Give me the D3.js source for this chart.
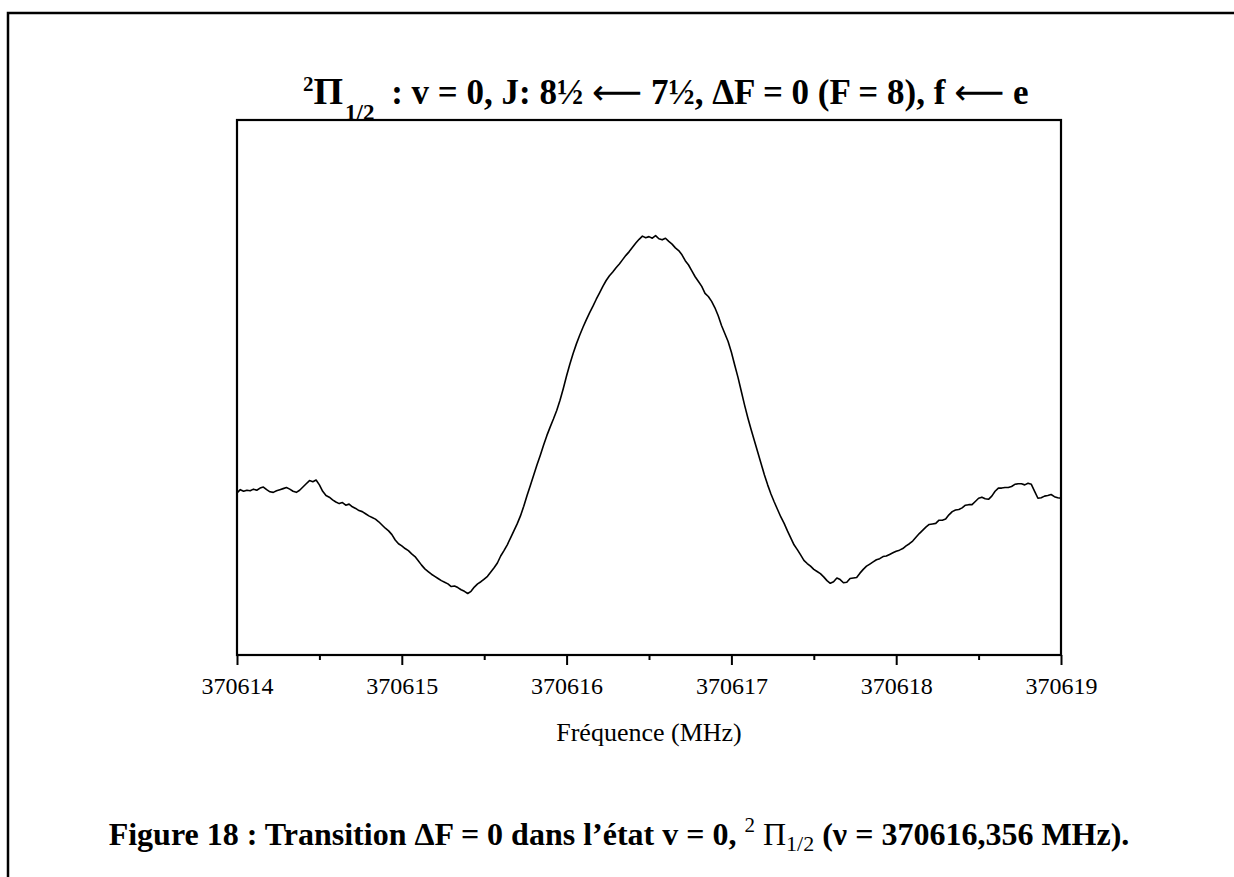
<!DOCTYPE html>
<html>
<head>
<meta charset="utf-8">
<script src="https://cdn.jsdelivr.net/npm/d3@7"></script>
<style>
  body { margin: 0; background: #fff; }
  svg { display: block; }
  text { font-family: "Liberation Serif", "Times New Roman", serif; fill: #000; }
</style>
</head>
<body>
<svg id="chart" width="1234" height="877"></svg>
<script>
// fréquence de base, les offsets sont en MHz au-dessus
const F0 = 370614

// balayage : [offset MHz, signal (u.a.)]
const scan = [
  [0.00, 30.3], [0.02, 30.9], [0.04, 30.6], [0.06, 30.8], [0.08, 30.7], [0.10, 31.0], [0.12, 30.8], [0.14, 31.2],
  [0.16, 31.4], [0.18, 30.9], [0.20, 30.5], [0.22, 30.4], [0.24, 30.7], [0.26, 30.9], [0.28, 31.1], [0.30, 31.3],
  [0.32, 31.0], [0.34, 30.6], [0.36, 30.4], [0.38, 30.8], [0.40, 31.4], [0.42, 32.0], [0.44, 32.6], [0.46, 32.4],
  [0.48, 32.7], [0.50, 31.8], [0.52, 30.6], [0.54, 29.8], [0.56, 29.5], [0.58, 29.0], [0.60, 28.6], [0.62, 28.3],
  [0.64, 28.5], [0.66, 28.0], [0.68, 28.2], [0.70, 27.7], [0.72, 27.4], [0.74, 27.0], [0.76, 26.8], [0.78, 26.4],
  [0.80, 26.0], [0.82, 25.7], [0.84, 25.4], [0.86, 24.9], [0.88, 24.3], [0.90, 23.7], [0.92, 23.2], [0.94, 22.5],
  [0.96, 21.5], [0.98, 20.8], [1.00, 20.4], [1.02, 19.9], [1.04, 19.5], [1.06, 18.9], [1.08, 18.4], [1.10, 17.6],
  [1.12, 16.8], [1.14, 16.1], [1.16, 15.6], [1.18, 15.1], [1.20, 14.7], [1.22, 14.3], [1.24, 13.9], [1.26, 13.6],
  [1.28, 13.3], [1.30, 12.8], [1.32, 12.9], [1.34, 12.6], [1.36, 12.2], [1.38, 11.9], [1.40, 11.5], [1.42, 11.9],
  [1.44, 12.7], [1.46, 13.3], [1.48, 13.7], [1.50, 14.2], [1.52, 14.7], [1.54, 15.5], [1.56, 16.3], [1.58, 17.2],
  [1.60, 18.5], [1.62, 19.5], [1.64, 20.6], [1.66, 21.9], [1.68, 23.2], [1.70, 24.5], [1.72, 26.0], [1.74, 27.8],
  [1.76, 29.8], [1.78, 31.7], [1.80, 33.6], [1.82, 35.5], [1.84, 37.3], [1.86, 39.2], [1.88, 41.0], [1.90, 42.6],
  [1.92, 44.1], [1.94, 45.7], [1.96, 47.6], [1.98, 49.8], [2.00, 52.2], [2.02, 54.4], [2.04, 56.4], [2.06, 58.2],
  [2.08, 59.8], [2.10, 61.3], [2.12, 62.7], [2.14, 64.0], [2.16, 65.2], [2.18, 66.5], [2.20, 67.7], [2.22, 68.9],
  [2.24, 70.0], [2.26, 70.9], [2.28, 71.6], [2.30, 72.4], [2.32, 73.1], [2.34, 73.9], [2.36, 74.7], [2.38, 75.4],
  [2.40, 76.2], [2.42, 77.0], [2.44, 77.7], [2.46, 78.3], [2.48, 78.0], [2.50, 78.2], [2.52, 77.9], [2.54, 78.4],
  [2.56, 77.8], [2.58, 77.6], [2.60, 77.9], [2.62, 77.3], [2.64, 76.8], [2.66, 76.1], [2.68, 75.6], [2.70, 74.8],
  [2.72, 73.7], [2.74, 72.9], [2.76, 71.8], [2.78, 70.7], [2.80, 69.8], [2.82, 68.9], [2.84, 67.6], [2.86, 67.0],
  [2.88, 66.1], [2.90, 64.9], [2.92, 63.4], [2.94, 61.6], [2.96, 60.1], [2.98, 58.6], [3.00, 56.6], [3.02, 54.2],
  [3.04, 51.9], [3.06, 49.3], [3.08, 46.7], [3.10, 44.3], [3.12, 42.1], [3.14, 40.0], [3.16, 37.9], [3.18, 35.8],
  [3.20, 33.7], [3.22, 31.8], [3.24, 30.1], [3.26, 28.6], [3.28, 27.2], [3.30, 25.8], [3.32, 24.6], [3.34, 23.2],
  [3.36, 21.9], [3.38, 20.6], [3.40, 19.7], [3.42, 18.7], [3.44, 17.7], [3.46, 17.1], [3.48, 16.6], [3.50, 16.0],
  [3.52, 15.6], [3.54, 15.2], [3.56, 14.6], [3.58, 13.9], [3.60, 13.4], [3.62, 13.7], [3.64, 14.4], [3.66, 14.1],
  [3.68, 13.5], [3.70, 13.6], [3.72, 14.3], [3.74, 14.4], [3.76, 14.5], [3.78, 15.3], [3.80, 16.0], [3.82, 16.6],
  [3.84, 17.0], [3.86, 17.4], [3.88, 17.8], [3.90, 18.0], [3.92, 18.4], [3.94, 18.5], [3.96, 18.8], [3.98, 19.1],
  [4.00, 19.4], [4.02, 19.6], [4.04, 19.9], [4.06, 20.4], [4.08, 20.8], [4.10, 21.3], [4.12, 22.0], [4.14, 22.7],
  [4.16, 23.3], [4.18, 23.9], [4.20, 24.4], [4.22, 24.5], [4.24, 24.6], [4.26, 25.2], [4.28, 25.2], [4.30, 25.4],
  [4.32, 26.2], [4.34, 26.8], [4.36, 27.1], [4.38, 27.2], [4.40, 27.5], [4.42, 28.0], [4.44, 28.1], [4.46, 28.1],
  [4.48, 28.7], [4.50, 29.3], [4.52, 29.5], [4.54, 29.2], [4.56, 29.1], [4.58, 29.7], [4.60, 30.6], [4.62, 31.2],
  [4.64, 31.2], [4.66, 31.3], [4.68, 31.3], [4.70, 31.5], [4.72, 31.9], [4.74, 32.0], [4.76, 32.0], [4.78, 31.8],
  [4.80, 32.1], [4.82, 31.9], [4.84, 30.6], [4.86, 29.3], [4.88, 29.4], [4.90, 29.7], [4.92, 29.8], [4.94, 30.0],
  [4.96, 29.6], [4.98, 29.4], [5.00, 29.3]
]

const xDomain = [370614, 370619]
const yDomain = [0, 100]
const majorTicks = [370614, 370615, 370616, 370617, 370618, 370619]
const minorTicks = [370614.5, 370615.5, 370616.5, 370617.5, 370618.5]
const xLabel = 'Fréquence (MHz)'
// morceaux du titre : texte, puis flèches à part (police avec ⟵)
const titleParts = [' : v = 0, J: 8½  ', '⟵', ' 7½, ΔF = 0 (F = 8), f  ', '⟵', ' e']
const captionStart = 'Figure 18 : Transition ΔF = 0 dans l’état v = 0, '
const captionEnd = ' (ν = 370616,356 MHz).'

const svg = d3.select('#chart')

// cadre de la page (scan)
svg.append('rect')
  .attr('x', 8).attr('y', 13)
  .attr('width', 1400).attr('height', 1000)
  .attr('fill', 'none').attr('stroke', '#000').attr('stroke-width', 2.5)

const plot = { left: 237, right: 1061, top: 120, bottom: 655 }

const x = d3.scaleLinear().domain(xDomain).range([plot.left, plot.right])
const y = d3.scaleLinear().domain(yDomain).range([plot.bottom, plot.top])

// ticks mineurs puis majeurs
svg.append('g')
  .attr('transform', 'translate(0,' + plot.bottom + ')')
  .call(d3.axisBottom(x).tickValues(minorTicks).tickSize(5).tickFormat(''))
  .call(g => g.select('.domain').remove())
  .call(g => g.selectAll('line').attr('stroke-width', 2))

const xAxis = svg.append('g')
  .attr('transform', 'translate(0,' + plot.bottom + ')')
  .call(d3.axisBottom(x).tickValues(majorTicks).tickSize(10).tickPadding(12).tickFormat(d3.format('d')))
xAxis.select('.domain').remove()
xAxis.selectAll('line').attr('stroke-width', 2)
xAxis.selectAll('text')
  .attr('font-family', '"Liberation Serif", serif')
  .attr('font-size', 24)
  .attr('fill', '#000')

// cadre du graphe
svg.append('rect')
  .attr('x', plot.left).attr('y', plot.top)
  .attr('width', plot.right - plot.left).attr('height', plot.bottom - plot.top)
  .attr('fill', 'none').attr('stroke', '#000').attr('stroke-width', 2.2)

// le spectre
const line = d3.line()
  .x(d => x(F0 + d[0]))
  .y(d => y(d[1]))

svg.append('path')
  .datum(scan)
  .attr('d', line)
  .attr('fill', 'none')
  .attr('stroke', '#000')
  .attr('stroke-width', 1.6)
  .attr('stroke-linejoin', 'round')

// titre de l'axe
svg.append('text')
  .attr('x', (plot.left + plot.right) / 2)
  .attr('y', 741)
  .attr('text-anchor', 'middle')
  .attr('font-size', 26)
  .text(xLabel)

// titre du graphe
const title = svg.append('text')
  .attr('x', 303)
  .attr('y', 104)
  .attr('font-weight', 'bold')
  .attr('font-size', 35)
title.append('tspan').attr('font-size', 21).attr('dy', -13).text('2')
title.append('tspan').attr('font-size', 38).attr('dy', 13).text('Π')
title.append('tspan').attr('font-size', 23).attr('dx', 2).attr('dy', 16).text('1/2')
title.append('tspan').attr('dx', 8).attr('dy', -16).text(titleParts[0])
titleParts.slice(1).forEach(p => {
  const t = title.append('tspan').text(p)
  if (p === '⟵') t.attr('font-family', '"DejaVu Sans", sans-serif').attr('font-weight', 'normal')
})

// légende de la figure
const caption = svg.append('text')
  .attr('x', 619)
  .attr('y', 845)
  .attr('text-anchor', 'middle')
  .attr('font-weight', 'bold')
  .attr('font-size', 32)
caption.append('tspan').text(captionStart)
caption.append('tspan').attr('font-weight', 'normal').attr('font-size', 21).attr('dy', -13).text('2')
caption.append('tspan').attr('font-weight', 'normal').attr('dy', 13).text(' Π')
caption.append('tspan').attr('font-weight', 'normal').attr('font-size', 22).attr('dy', 6).text('1/2')
caption.append('tspan').attr('dy', -6).text(captionEnd)
</script>
</body>
</html>
